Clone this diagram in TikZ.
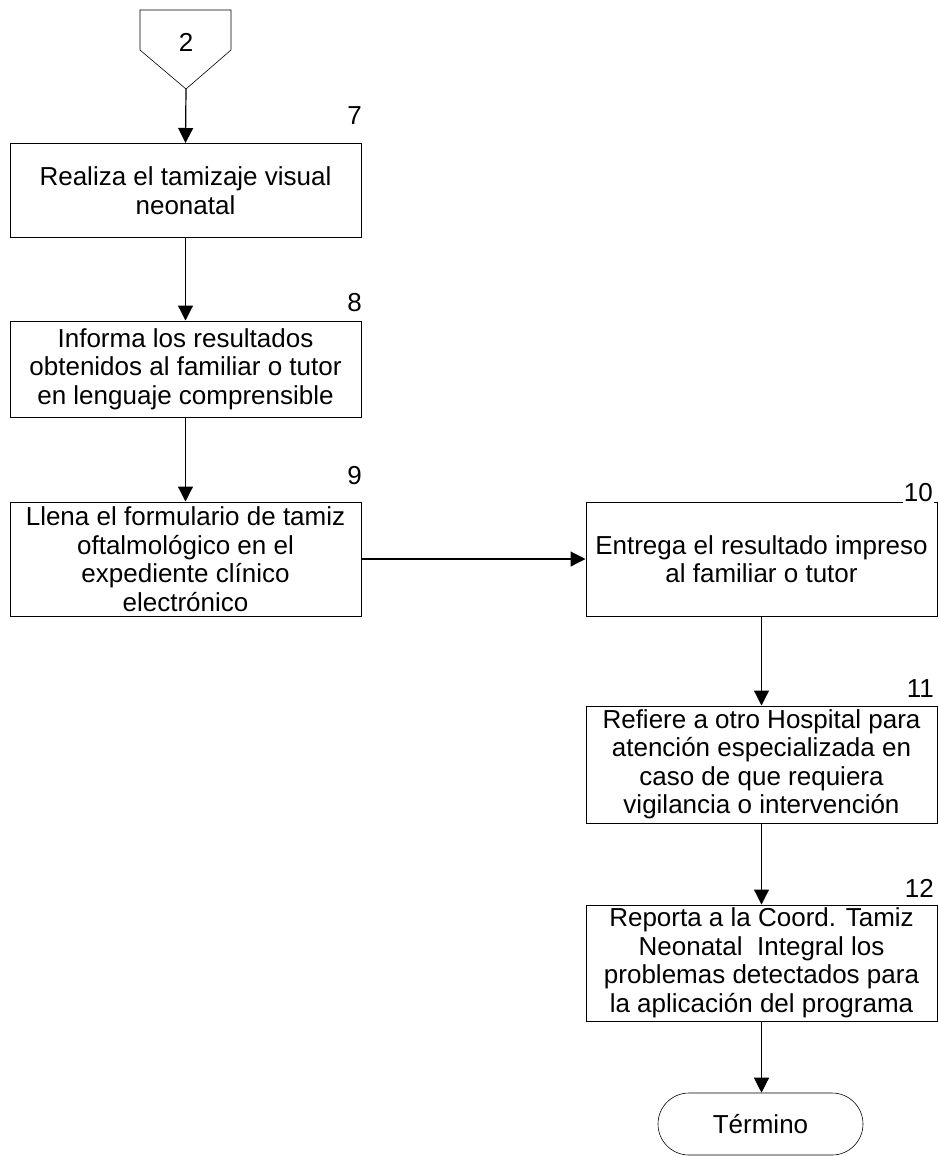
\documentclass[tikz,border=0pt]{standalone}
\usepackage{fontspec}
\setmainfont{Liberation Sans}
\usetikzlibrary{arrows.meta}
\begin{document}
\begin{tikzpicture}[x=1pt,y=-1pt,
  txt/.style={font=\fontsize{26}{28.5}\selectfont},
  box/.style={draw,line width=1pt,minimum width=351pt,align=center,inner sep=0pt,txt},
  num/.style={anchor=south east,inner sep=0pt,txt},
  flow/.style={line width=1.2pt,-{Triangle[length=15pt,width=15pt]}},
  conn/.style={draw,line width=0.6pt}]
\useasboundingbox (0,0) rectangle (939,1157);
% off-page connector
\coordinate (c2a) at (140,10);
\coordinate (c2b) at (231,10);
\coordinate (c2c) at (231,50);
\coordinate (c2tip) at (186,89);
\coordinate (c2d) at (140,50);
\draw[conn] (c2a) -- (c2b) -- (c2c) -- (c2tip) -- (c2d) -- cycle;
\node[txt] (c2) at (186,42) {2};
% boxes
\node[box,minimum height=94pt] (b7) at (185.5,190.5) {Realiza el tamizaje visual\\neonatal};
\node[box,minimum height=96pt] (b8) at (185.5,369) {Informa los resultados\\obtenidos al familiar o tutor\\en lenguaje comprensible};
\node[box,minimum height=114pt] (b9) at (185.5,559) {Llena el formulario de tamiz\\oftalmológico en el\\expediente clínico\\electrónico};
\node[box,minimum height=114pt] (b10) at (761.5,559) {Entrega el resultado impreso\\al familiar o tutor};
\node[box,minimum height=117pt] (b11) at (761.5,764.5) {Refiere a otro Hospital para\\atención especializada en\\caso de que requiera\\vigilancia o intervención};
\node[box,minimum height=116pt] (b12) at (761.5,963) {Reporta a la Coord. Tamiz\\Neonatal\ \ Integral los\\problemas detectados para\\la aplicación del programa};
\node[draw,line width=0.6pt,rounded corners=31pt,minimum width=205pt,minimum height=62pt,inner sep=0pt,txt] (term) at (760.5,1124) {Término};
% numbers
\node[num] (n7) at (362,125) {7};
\node[num] (n8) at (362,312) {8};
\node[num] (n9) at (362,485) {9};
\node[num,fill=white,inner sep=1pt] (n10) at (934,503) {10};
\node[num] (n11) at (934,698) {11};
\node[num] (n12) at (934,898) {12};
% connectors
\draw[flow] (c2tip) -- (b7.north);
\draw[flow] (b7) -- (b8);
\draw[flow] (b8) -- (b9);
\draw[flow] (b9) -- (b10);
\draw[flow] (b10) -- (b11);
\draw[flow] (b11) -- (b12);
\draw[flow] (b12.south) -- (b12.south |- term.north);
\end{tikzpicture}
\end{document}
